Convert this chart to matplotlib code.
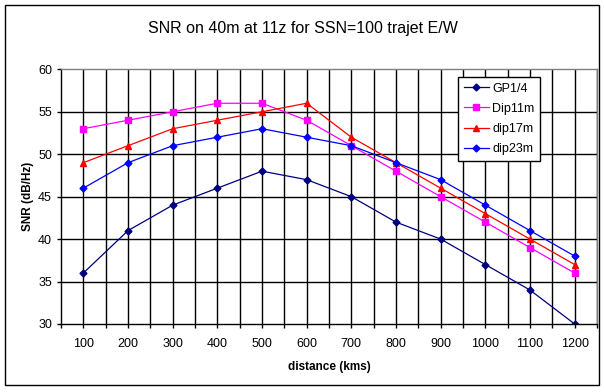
import numpy as np
import matplotlib
matplotlib.use('Agg')
import matplotlib.pyplot as plt
from matplotlib.patches import Rectangle

plt.rcParams['font.family'] = ['Liberation Sans', 'DejaVu Sans']

# Data
distance = [100, 200, 300, 400, 500, 600, 700, 800, 900, 1000, 1100, 1200]
gp14 = [36, 41, 44, 46, 48, 47, 45, 42, 40, 37, 34, 30]
dip11m = [53, 54, 55, 56, 56, 54, 51, 48, 45, 42, 39, 36]
dip17m = [49, 51, 53, 54, 55, 56, 52, 49, 46, 43, 40, 37]
dip23m = [46, 49, 51, 52, 53, 52, 51, 49, 47, 44, 41, 38]

fig = plt.figure(figsize=(6.04, 3.92), dpi=100)
ax = fig.add_axes([61/604, 1-324/392, (597-61)/604, (324-69.3)/392])

x = np.arange(1, len(distance) + 1)
ax.plot(x, gp14, color='#000080', marker='D', markersize=3.5, lw=0.9, label='GP1/4')
ax.plot(x, dip11m, color='#FF00FF', marker='s', markersize=4.5, lw=0.9, label='Dip11m')
ax.plot(x, dip17m, color='#FF0000', marker='^', markersize=5, lw=0.9, label='dip17m')
ax.plot(x, dip23m, color='#0000FF', marker='D', markersize=3.5, lw=0.9, label='dip23m')

ax.set_xlim(0.5, len(distance) + 0.5)
ax.set_ylim(30, 60)
ax.set_yticks(np.arange(30, 61, 5))
ax.set_xticks(x)
ax.set_xticklabels([str(d) for d in distance])
ax.set_xticks(np.arange(0.5, len(distance) + 1, 1), minor=True)

# grid lines at centres and boundaries
for g in np.arange(1, len(distance) + 0.6, 0.5):
    ax.axvline(g, color='black', lw=1, zorder=0)
for g in range(35, 60, 5):
    ax.axhline(g, color='black', lw=1, zorder=0)

ax.tick_params(axis='both', which='both', direction='out', length=3, width=1,
               labelsize=9, colors='black')
ax.tick_params(axis='x', pad=7)
ax.spines['top'].set_color('#808080')
ax.spines['right'].set_color('#808080')
for s in ax.spines.values():
    s.set_linewidth(1)

ax.set_xlabel('distance (kms)', fontsize=8.5, fontweight='bold', labelpad=8)
ax.set_ylabel('SNR (dB/Hz)', fontsize=8.5, fontweight='bold', labelpad=3)

fig.text(302.5/604, 1 - 29/392, 'SNR on 40m at 11z for SSN=100 trajet E/W',
         ha='center', va='center', fontsize=11.5)

leg = ax.legend(loc='upper left', bbox_to_anchor=((458-61)/536, 1-(77-69.3)/254.7),
                borderaxespad=0, fontsize=9, frameon=True, fancybox=False, borderpad=0.45,
                labelspacing=0.65, handlelength=2.0, handletextpad=0.3)
leg.get_frame().set_edgecolor('black')
leg.get_frame().set_linewidth(1)
leg.get_frame().set_facecolor('white')
leg.get_frame().set_alpha(1)

fig.patches.append(Rectangle((5/604, 1-385/392), 594/604, 380/392, transform=fig.transFigure,
                             fill=False, edgecolor='black', lw=1))

fig.savefig('out.png', dpi=100)
